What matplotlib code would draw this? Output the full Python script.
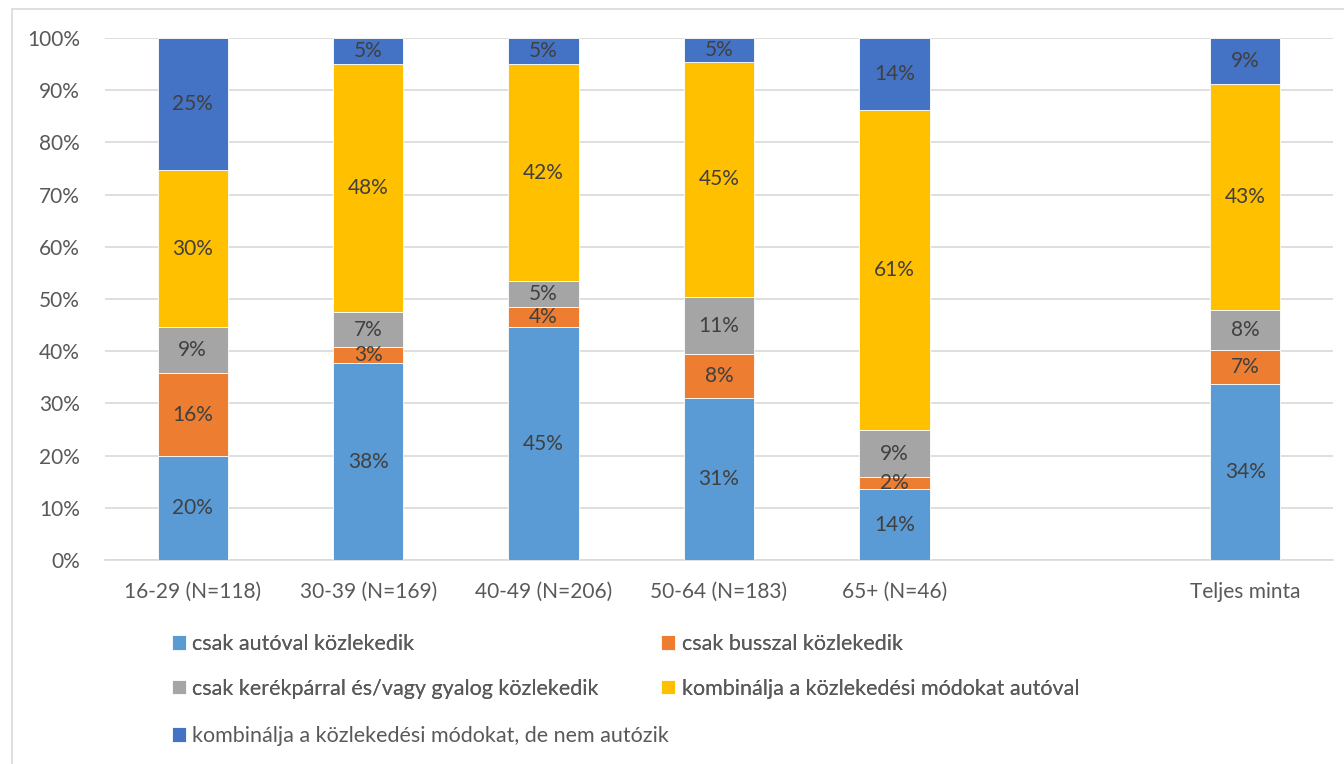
import matplotlib.pyplot as plt
from matplotlib.patches import Rectangle
import numpy as np

plt.rcParams['font.family'] = ['Lato', 'DejaVu Sans']

categories = ["16-29 (N=118)", "30-39 (N=169)", "40-49 (N=206)", "50-64 (N=183)",
              "65+ (N=46)", "", "Teljes minta"]
series_names = ["csak autóval közlekedik",
                "csak busszal közlekedik",
                "csak kerékpárral és/vagy gyalog közlekedik",
                "kombinálja a közlekedési módokat autóval",
                "kombinálja a közlekedési módokat, de nem autózik"]
colors = ["#5B9BD5", "#ED7D31", "#A5A5A5", "#FFC000", "#4472C4"]

# values in percent, None for the empty slot
only_car = [19.9, 37.7, 44.6, 31.0, 13.6, None, 33.7]
only_bus = [15.9, 3.1, 3.9, 8.4, 2.3, None, 6.6]
only_bike_walk = [8.8, 6.7, 4.9, 11.0, 9.0, None, 7.6]
combo_car = [30.1, 47.5, 41.6, 45.0, 61.4, None, 43.3]
combo_nocar = [25.3, 5.0, 5.0, 4.6, 13.7, None, 8.8]

series = [only_car, only_bus, only_bike_walk, combo_car, combo_nocar]

FS = 15

fig = plt.figure(figsize=(13.44, 7.64), dpi=100)
ax = fig.add_axes([105 / 1344, 1 - 560 / 764, (1333 - 105) / 1344, (560 - 38) / 764])

x = np.arange(len(categories))
bottom = np.zeros(len(categories))
handles = []
for name, vals, col in zip(series_names, series, colors):
    v = np.array([0 if a is None else a for a in vals], dtype=float)
    bars = ax.bar(x, v, width=0.4, bottom=bottom, color=col, edgecolor='white',
                  linewidth=0.6, label=name, zorder=3)
    handles.append(bars)
    for xi, vi, bi in zip(x, v, bottom):
        if vi > 0:
            ax.text(xi, bi + vi / 2, f"{vi:.0f}%", ha='center', va='center',
                    fontsize=FS, color='#404040', zorder=4)
    bottom += v

ax.set_xlim(-0.5, len(categories) - 0.5)
ax.set_ylim(0, 100)
ax.set_yticks(np.arange(0, 101, 10))
ax.set_yticklabels([f"{t}%" for t in range(0, 101, 10)])
ax.set_xticks(x)
ax.set_xticklabels(categories)
ax.tick_params(axis='both', length=0, labelsize=FS, colors='#595959')
ax.tick_params(axis='x', pad=16)
ax.tick_params(axis='y', pad=18)
ax.yaxis.grid(True, color='#D9D9D9', linewidth=1.2, zorder=0)
for s in ['top', 'right', 'left']:
    ax.spines[s].set_visible(False)
ax.spines['bottom'].set_color('#D9D9D9')
ax.spines['bottom'].set_linewidth(1.2)

# chart frame
fig.patches.append(Rectangle((12 / 1344, -0.01), 1.0, 1 - 9 / 764 + 0.01,
                             transform=fig.transFigure, fill=False,
                             edgecolor='#D9D9D9', linewidth=1.2))

leg_kw = dict(frameon=False, fontsize=15.5, handlelength=0.65, handleheight=0.65,
              handletextpad=0.3, labelcolor='#595959', borderpad=0, borderaxespad=0)
leg1 = fig.legend([handles[0], handles[2], handles[1], handles[3]],
                  [series_names[0], series_names[2], series_names[1], series_names[3]],
                  ncol=2, loc='upper left', bbox_to_anchor=(172 / 1344, 1 - 634 / 764),
                  columnspacing=2.9, labelspacing=1.15, **leg_kw)
leg2 = fig.legend([handles[4]], [series_names[4]], loc='upper left',
                  bbox_to_anchor=(172 / 1344, 1 - 726 / 764), **leg_kw)
fig.add_artist(leg1)

fig.savefig("out.png", dpi=100)
